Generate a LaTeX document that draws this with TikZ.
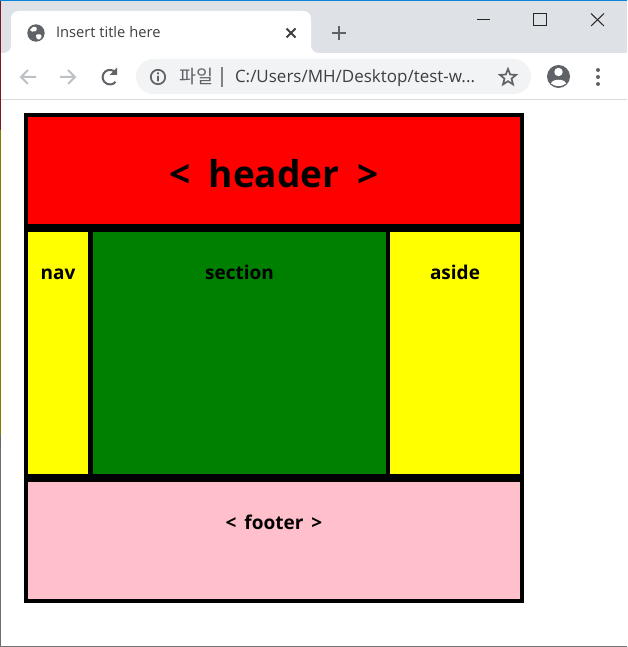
\documentclass[tikz,border=0pt]{standalone}
\usepackage{fontspec}
\setmainfont{Open Sans}
\newfontfamily\krfont{Noto Sans CJK KR}
\usepackage{xcolor}
\usetikzlibrary{shapes.geometric, positioning}
\definecolor{chromebar}{HTML}{DEE1E6}
\definecolor{chromepill}{HTML}{F1F3F4}
\definecolor{chromeicon}{HTML}{5F6368}
\definecolor{chromefade}{HTML}{BDC1C6}
\definecolor{chrometext}{HTML}{3C4043}
\definecolor{chromeline}{HTML}{D9DBDD}
\definecolor{redbox}{HTML}{FF0000}
\definecolor{yellowbox}{HTML}{FFFF00}
\definecolor{pinkbox}{HTML}{FFC0CB}
\definecolor{greenbox}{HTML}{008000}
\definecolor{edgeblue}{HTML}{0A84D8}
\definecolor{edgered}{HTML}{7A1A20}
\definecolor{edgeolive}{HTML}{808000}
\definecolor{edgegray}{HTML}{76696C}
\newcommand\headfont{\fontsize{37}{40}\bfseries\selectfont\spaceskip=.5em\relax}
\newcommand\tagfont{\fontsize{19}{21}\bfseries\selectfont\spaceskip=.42em\relax}
\tikzset{
  box/.style     = {rectangle, inner sep=0pt, outer sep=0pt},
  tag/.style     = {inner sep=0pt, outer sep=0pt, anchor=base, font=\tagfont},
  chrometxt/.style = {inner sep=0pt, outer sep=0pt, anchor=base west, text=chrometext},
  icon/.style    = {draw=chromeicon, line width=2pt},
  fadeicon/.style = {draw=chromefade, line width=2pt},
  winicon/.style = {draw=black!85, line width=1pt},
}
\begin{document}
\begin{tikzpicture}[x=1pt, y=-1pt]
  \useasboundingbox (0,0) rectangle (627,647);
  \fill[white] (0,0) rectangle (627,647);

  % window edges
  \fill[chromebar] (0,0) rectangle (627,53);
  \fill[white] (0,53) rectangle (627,99);
  \fill[chromeline] (0,99) rectangle (627,100);
  \fill[black!55] (0,646) rectangle (627,647);
  \fill[edgeblue] (0,0) rectangle (627,1);
  \fill[edgered] (0,1) rectangle (1,130);
  \fill[edgeolive] (0,130) rectangle (1,435);
  \fill[black!60] (0,435) rectangle (1,447);
  \fill[edgegray] (0,447) rectangle (1,646);

  % tab
  \fill[white] (3,53) .. controls (8,53) and (11,50) .. (11,45) -- (11,19)
    .. controls (11,14) and (14,11) .. (19,11) -- (303,11)
    .. controls (308,11) and (311,14) .. (311,19) -- (311,45)
    .. controls (311,50) and (314,53) .. (319,53) -- cycle;
  \fill[chromeicon] (36,33) circle (8.7);
  \fill[white] (33,27) .. controls (36,26) and (38,28) .. (36,31) .. controls (33,32) and (31,32) .. (30,30) -- cycle;
  \fill[white] (36,35) .. controls (40,33) and (43,35) .. (41,38) .. controls (39,41) and (36,40) .. cycle;
  \node[chrometxt, font=\fontsize{14.7}{16}\selectfont] (title) at (56,38) {Insert title here};
  \draw[icon, draw=black!75] (286.5,28.5) -- (295.5,37.5) (295.5,28.5) -- (286.5,37.5);
  \draw[icon, line width=2.4pt] (339,26) -- (339,40) (332,33) -- (346,33);

  % window buttons
  \draw[winicon] (477,19.5) -- (490,19.5);
  \draw[winicon] (533.5,13.5) rectangle (546,25.5);
  \draw[winicon] (591,13.5) -- (604,26) (604,13.5) -- (591,26);

  % toolbar
  \draw[fadeicon] (36,77) -- (21,77) (28,70) -- (21,77) -- (28,84);
  \draw[fadeicon] (60,77) -- (75,77) (68,70) -- (75,77) -- (68,84);
  \draw[icon] (115.5,72.5) arc[start angle=-40, end angle=-320, radius=7.3];
  \fill[chromeicon] (117,67.5) -- (117,75) -- (109.5,75) -- cycle;
  \fill[chromepill, rounded corners=17.5pt] (136,59) rectangle (531,94);
  \draw[icon, line width=1.7pt] (158,77) circle (7.2);
  \fill[chromeicon] (157.1,76) rectangle (158.9,81.5) (157.1,72.5) rectangle (158.9,74.3);
  \node[chrometxt, text=chromeicon, font=\krfont\fontsize{18.5}{20}\selectfont] (scheme) at (179,83.5) {파일};
  \fill[chromeicon!80] (221,67) rectangle (223,87);
  \node[chrometxt, font=\fontsize{17}{19}\selectfont] (addr) at (235,83) {C:/Users/MH/Desktop/test-w...};
  \node[star, star points=5, star point ratio=2.3, draw=chromeicon, line width=1.7pt,
        inner sep=0pt, minimum size=17pt] (fav) at (508,77.5) {};
  \fill[chromeicon] (558.5,76.5) circle (11.5);
  \fill[white] (558.5,72) circle (4.2);
  \fill[white] (551,83.5) .. controls (552,78.5) and (565,78.5) .. (566,83.5) .. controls (562,87) and (555,87) .. cycle;
  \fill[chromeicon] (598,70) circle (2) (598,77) circle (2) (598,84) circle (2);

  % Page boxes
  \node[box, fill=black, minimum width=500pt, minimum height=490pt, anchor=north west] (page) at (24,113) {};
  \node[box, fill=redbox, minimum width=492pt, minimum height=107pt, anchor=north west] (header) at (28,117) {};
  \node[box, fill=yellowbox, minimum width=60pt, minimum height=242pt,
        below right=8pt and 0pt of header.south west] (nav) {};
  \node[box, fill=greenbox, minimum width=293pt, minimum height=242pt,
        below right=0pt and 5pt of nav.north east] (section) {};
  \node[box, fill=yellowbox, minimum width=130pt, minimum height=242pt,
        below right=0pt and 4pt of section.north east] (aside) {};
  \node[box, fill=pinkbox, minimum width=492pt, minimum height=117pt,
        below right=8pt and 0pt of nav.south west] (footer) {};

  % Page labels
  \node[tag, font=\headfont] (headertxt) at ([yshift=-70pt]header.north) {< header >};
  \node[tag] (navtxt)     at ([yshift=-47pt]nav.north)     {nav};
  \node[tag] (sectiontxt) at ([yshift=-47pt]section.north) {section};
  \node[tag] (asidetxt)   at ([yshift=-47pt]aside.north)   {aside};
  \node[tag] (footertxt)  at ([yshift=-47pt]footer.north)  {< footer >};
\end{tikzpicture}
\end{document}
